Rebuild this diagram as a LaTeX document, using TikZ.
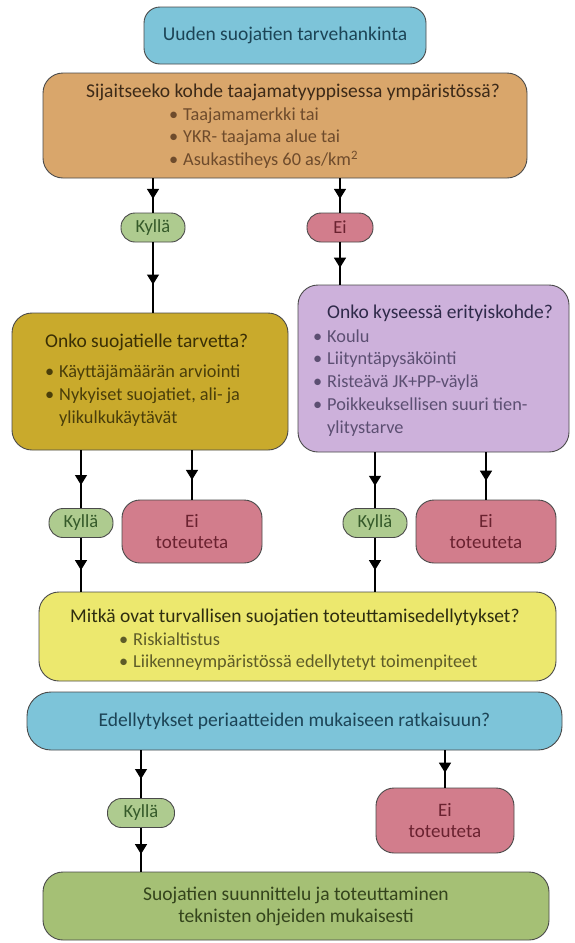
\documentclass[tikz,border=0pt]{standalone}
\usepackage{fontspec}
\setmainfont{Carlito}
\usetikzlibrary{arrows.meta,decorations.markings}
\definecolor{cBlue}{HTML}{7DC4D9}
\definecolor{cOrange}{HTML}{D9A66B}
\definecolor{cOlive}{HTML}{C9AA2C}
\definecolor{cPurple}{HTML}{CDB1DB}
\definecolor{cYellow}{HTML}{ECE86E}
\definecolor{cGreen}{HTML}{A5C075}
\definecolor{cPillG}{HTML}{AECB8F}
\definecolor{cPink}{HTML}{D27D8C}
\definecolor{cEdge}{HTML}{4A4A4A}
\definecolor{tBlue}{HTML}{1C4456}
\definecolor{tOrT}{HTML}{3D2A18}
\definecolor{tOrB}{HTML}{6E4B2C}
\definecolor{tOlT}{HTML}{3A2F05}
\definecolor{tOlB}{HTML}{4A3E0A}
\definecolor{tPuT}{HTML}{2F2A4A}
\definecolor{tPuB}{HTML}{5C4F72}
\definecolor{tYeT}{HTML}{2E2E10}
\definecolor{tYeB}{HTML}{5E5C28}
\definecolor{tGr}{HTML}{34441C}
\definecolor{tKy}{HTML}{355A2A}
\definecolor{tEi}{HTML}{6A2230}
\newcommand{\bul}{\llap{•\hspace{5pt}}}
\begin{document}
\begin{tikzpicture}[x=1pt,y=-1pt,
  box/.style={draw=cEdge, line width=0.9pt, inner sep=0pt, align=center},
  pill/.style={box, rounded corners=14pt, minimum width=64pt, minimum height=29pt, fill=cPillG, text=tKy, font=\fontsize{18.5}{20}\selectfont},
  eipill/.style={box, rounded corners=14pt, minimum width=66pt, minimum height=29pt, fill=cPink, text=tEi, font=\fontsize{18.5}{20}\selectfont},
  eibox/.style={box, rounded corners=18pt, minimum width=140pt, minimum height=63pt, fill=cPink, text=tEi, font=\fontsize{19}{21}\selectfont},
  ttl/.style={inner sep=0pt, font=\fontsize{19.5}{23}\selectfont},
  bl/.style={inner sep=0pt, anchor=base west, font=\fontsize{18.3}{22.5}\selectfont},
  conn/.style={draw=black, line width=1.2pt, postaction={decorate},
    decoration={markings, mark=at position 0.6 with {\arrow{Triangle[width=12pt,length=10pt]}}}}
]
\path[use as bounding box, fill=white] (0,0) rectangle (574,943);

% boxes
\node[box, rounded corners=16pt, fill=cBlue, minimum width=282pt, minimum height=57pt, text=tBlue, font=\fontsize{19.5}{23}\selectfont] (top) at (285,35.5) {Uuden suojatien tarvehankinta};
\node[box, rounded corners=20pt, fill=cOrange, minimum width=484pt, minimum height=105pt] (orange) at (285,125.5) {};
\node[box, rounded corners=20pt, fill=cOlive, minimum width=276pt, minimum height=137pt] (olive) at (150,381.5) {};
\node[box, rounded corners=20pt, fill=cPurple, minimum width=271pt, minimum height=167pt] (purple) at (433.5,368.5) {};
\node[box, rounded corners=20pt, fill=cYellow, minimum width=517pt, minimum height=89pt] (yellow) at (297.5,636.5) {};
\node[box, rounded corners=24pt, fill=cBlue, minimum width=535pt, minimum height=58pt, text=tBlue, font=\fontsize{19.5}{23}\selectfont] (blue) at (294.5,721) {Edellytykset periaatteiden mukaiseen ratkaisuun?};
\node[box, rounded corners=20pt, fill=cGreen, minimum width=506pt, minimum height=68pt, text=tGr, font=\fontsize{19.5}{22}\selectfont] (green) at (296,906) {Suojatien suunnittelu ja toteuttaminen\\teknisten ohjeiden mukaisesti};

% pills
\node[pill] (kyA) at (153,227.5) {Kyllä};
\node[eipill] (eiA) at (340,227.5) {Ei};
\node[pill] (kyB) at (81,523) {Kyllä};
\node[eibox] (eiB) at (192,531.5) {Ei\\toteuteta};
\node[pill] (kyC) at (375,523) {Kyllä};
\node[eibox] (eiC) at (486,531.5) {Ei\\toteuteta};
\node[pill, minimum width=67pt] (kyD) at (141,813) {Kyllä};
\node[eibox, minimum width=138pt, minimum height=65pt] (eiD) at (445,820.5) {Ei\\toteuteta};

% texts
\node[ttl, anchor=base, text=tOrT] (orT) at (293,97.5) {Sijaitseeko kohde taajamatyyppisessa ympäristössä?};
\node[bl, text=tOrB] (orB1) at (183,120.5) {\bul Taajamamerkki tai};
\node[bl, text=tOrB] (orB2) at (183,142.5) {\bul YKR- taajama alue tai};
\node[bl, text=tOrB] (orB3) at (183,165.5) {\bul Asukastiheys 60 as/km\textsuperscript{2}};

\node[ttl, anchor=base west, text=tOlT] (olT) at (45,347.5) {Onko suojatielle tarvetta?};
\node[bl, text=tOlB] (olB1) at (59,377.5) {\bul Käyttäjämäärän arviointi};
\node[bl, text=tOlB] (olB2) at (59,400.5) {\bul Nykyiset suojatiet, ali- ja};
\node[bl, text=tOlB] (olB3) at (59,423.5) {ylikulkukäytävät};

\node[ttl, anchor=base west, text=tPuT] (puT) at (327,318.5) {Onko kyseessä erityiskohde?};
\node[bl, text=tPuB] (puB1) at (327,342.5) {\bul Koulu};
\node[bl, text=tPuB] (puB2) at (327,364.5) {\bul Liityntäpysäköinti};
\node[bl, text=tPuB] (puB3) at (327,387.5) {\bul Risteävä JK+PP-väylä};
\node[bl, text=tPuB] (puB4) at (327,410.5) {\bul Poikkeuksellisen suuri tien-};
\node[bl, text=tPuB] (puB5) at (327,433.5) {ylitystarve};

\node[ttl, anchor=base west, text=tYeT] (yeT) at (70,622.5) {Mitkä ovat turvallisen suojatien toteuttamisedellytykset?};
\node[bl, text=tYeB] (yeB1) at (133,645.5) {\bul Riskialtistus};
\node[bl, text=tYeB] (yeB2) at (133,667.5) {\bul Liikenneympäristössä edellytetyt toimenpiteet};

% connectors
\draw[conn] (orange.south -| kyA) -- (kyA.north);
\draw[conn] (kyA.south) -- (kyA.south |- olive.north);
\draw[conn] (orange.south -| eiA) -- (eiA.north);
\draw[conn] (eiA.south) -- (eiA.south |- purple.north);
\draw[conn] (olive.south -| kyB) -- (kyB.north);
\draw[conn] (kyB.south) -- (kyB.south |- yellow.north);
\draw[conn] (olive.south -| eiB) -- (eiB.north);
\draw[conn] (purple.south -| kyC) -- (kyC.north);
\draw[conn] (kyC.south) -- (kyC.south |- yellow.north);
\draw[conn] (purple.south -| eiC) -- (eiC.north);
\draw[conn] (blue.south -| kyD) -- (kyD.north);
\draw[conn] (kyD.south) -- (kyD.south |- green.north);
\draw[conn] (blue.south -| eiD) -- (eiD.north);
\end{tikzpicture}
\end{document}
